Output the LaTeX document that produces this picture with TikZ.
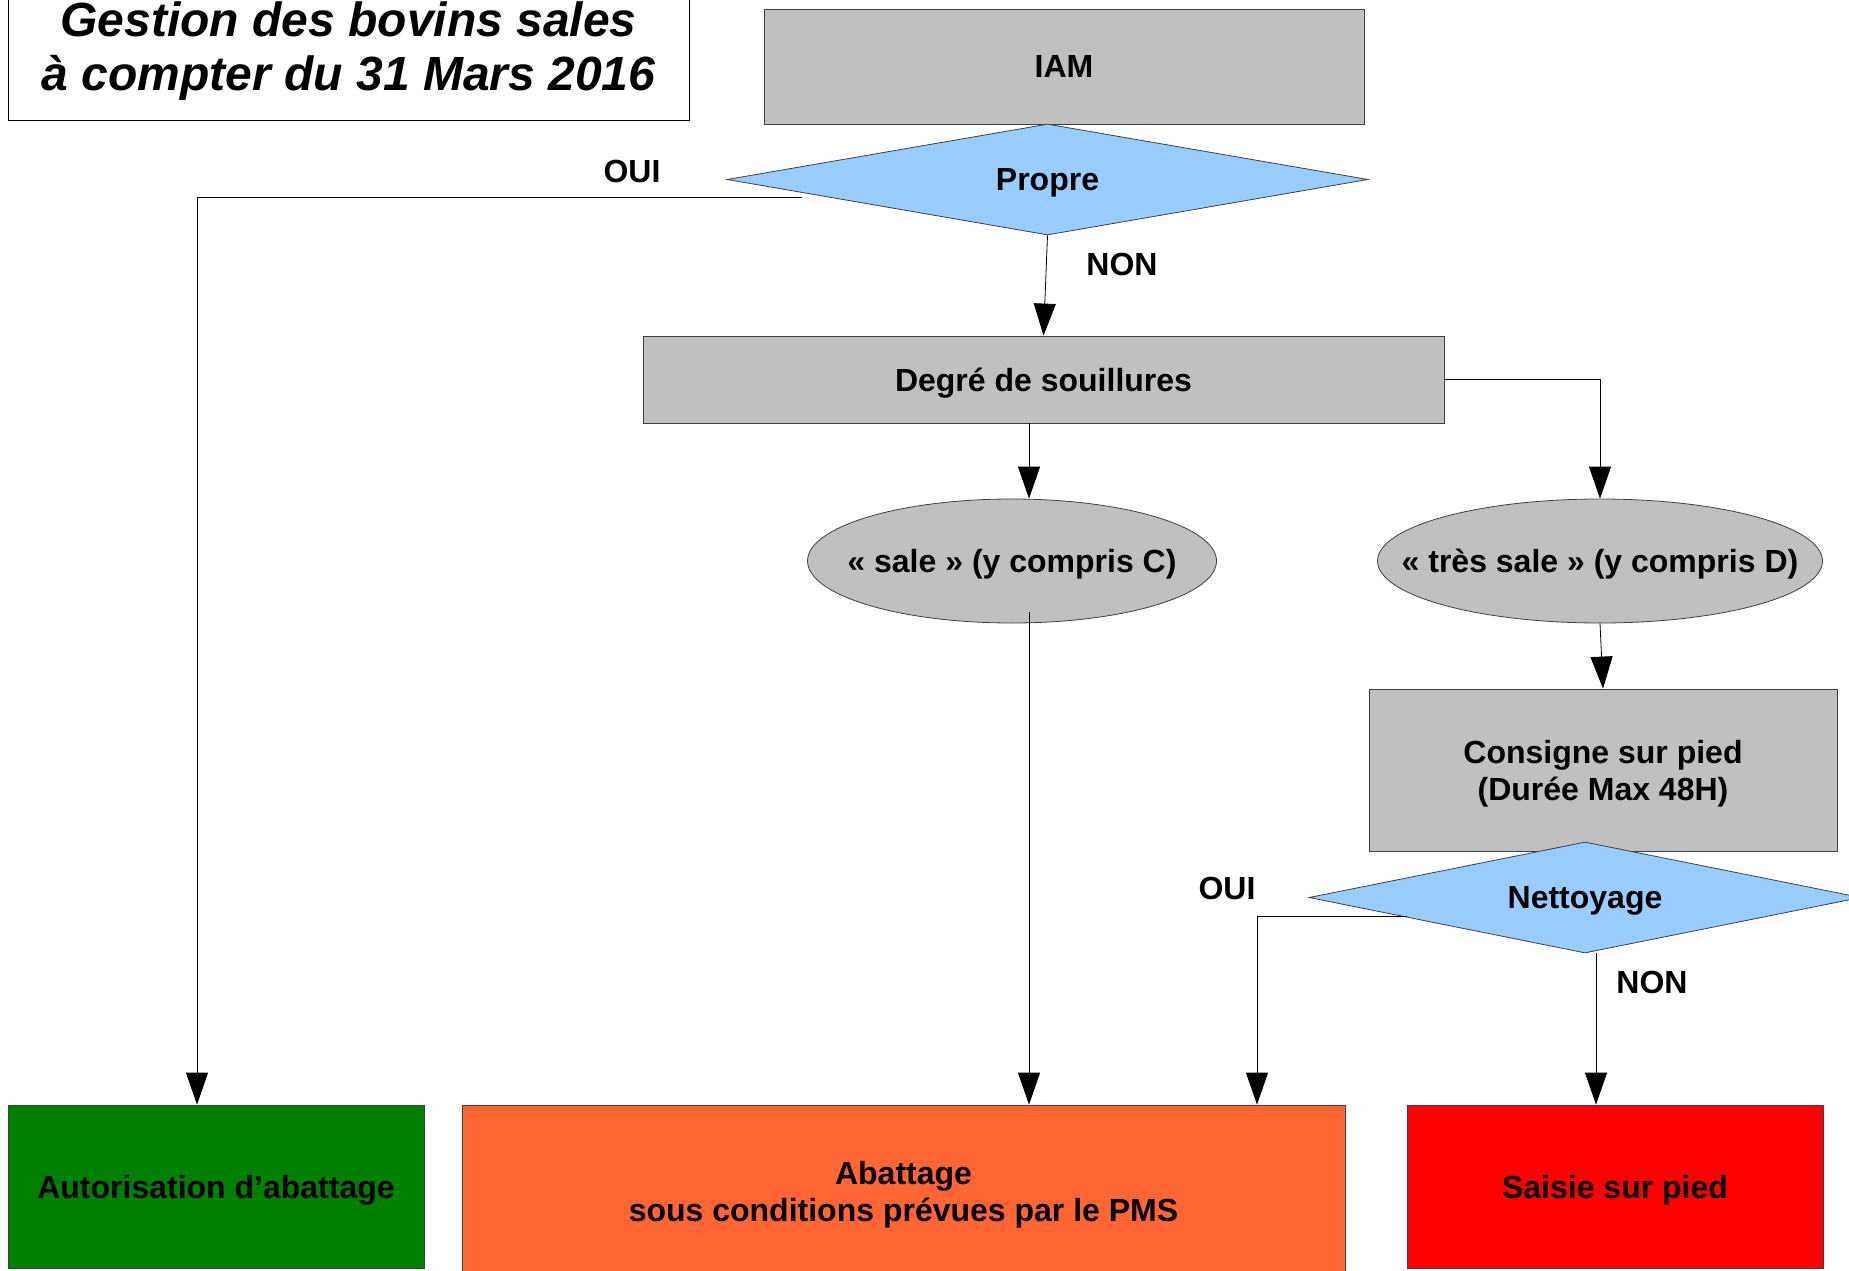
\documentclass[tikz,border=0pt]{standalone}
\usepackage{fontspec}
\setmainfont{Liberation Sans}
\usetikzlibrary{shapes.geometric,arrows.meta}

\definecolor{grisbox}{HTML}{C0C0C0}
\definecolor{bleudec}{HTML}{99CCFF}
\definecolor{vertok}{HTML}{008000}
\definecolor{orangepms}{HTML}{FF6633}
\definecolor{rougesaisie}{HTML}{FF0000}

\tikzset{
	boite/.style={rectangle,draw=black!75,line width=0.8pt,fill=grisbox,inner sep=0pt,align=center,text depth=0pt},
	decision/.style={diamond,draw=black!75,line width=0.8pt,fill=bleudec,inner sep=0pt,text depth=0pt},
	bulle/.style={ellipse,draw=black!75,line width=0.8pt,fill=grisbox,inner sep=0pt,text depth=0pt},
	issue/.style={rectangle,draw=black!75,line width=0.8pt,inner sep=0pt,align=center,text depth=0pt}
}

\begin{document}
\begin{tikzpicture}[x=1pt,y=-1pt,font=\fontsize{32}{37}\selectfont\bfseries]
						\clip (0,0) rectangle (1849,1271);
						\node[draw,line width=1pt,minimum width=681pt,minimum height=140pt,align=center,
							font=\fontsize{48}{54}\selectfont\bfseries\itshape] (titre) at (348.5,51)
							{Gestion des bovins sales\\à compter du 31 Mars 2016};
						
						\begin{scope}[every node/.style={boite}]
							\node[minimum width=600pt,minimum height=115pt] (iam) at (1064,66.5) {IAM};
							\node[minimum width=801pt,minimum height=87pt] (degre) at (1043.5,379.5) {Degré de souillures};
							\node[minimum width=468pt,minimum height=162pt] (consigne) at (1603,770) {Consigne sur pied\\(Durée Max 48H)};
						\end{scope}
						
						\begin{scope}[every node/.style={decision}]
							\node[aspect=5.77,minimum width=641pt,minimum height=111pt] (propre) at (1047.5,179.5) {Propre};
							\node[aspect=4.97,minimum width=552pt,minimum height=111pt] (nettoyage) at (1585,897.5) {Nettoyage};
						\end{scope}
						
						\begin{scope}[every node/.style={bulle}]
							\node[minimum width=409pt,minimum height=124pt] (sale) at (1012,561) {\makebox[0pt]{« sale » (y compris C)}};
							\node[minimum width=445pt,minimum height=124pt] (tressale) at (1600,561) {\makebox[0pt]{« très sale » (y compris D)}};
						\end{scope}
						
						\begin{scope}[every node/.style={issue}]
							\node[fill=vertok,minimum width=416pt,minimum height=163pt] (autor) at (216,1186.5) {Autorisation d’abattage};
							\node[fill=orangepms,minimum width=883pt,minimum height=172pt] (abattage) at (903.5,1191) {Abattage\\sous conditions prévues par le PMS};
							\node[fill=rougesaisie,minimum width=416pt,minimum height=163pt] (saisie) at (1615,1186.5) {Saisie sur pied};
						\end{scope}
						
						\node (oui1) at (632,171) {OUI};
						\node (non1) at (1122,264) {NON};
						\node (oui2) at (1227,888) {OUI};
						\node (non2) at (1652,982) {NON};
						
						\coordinate (depart) at (802,197);
						\begin{scope}[line width=0.8pt,>={Triangle[length=32pt,width=22pt]}]
							\draw [->] (propre.south) -- (degre.north);
							\draw [->] (depart) -| ([xshift=-19pt]autor.north);
							\draw [->] ([xshift=-14.5pt]degre.south) -- ([xshift=-14.5pt]degre.south |- sale.north);
							\draw [->] (degre.east) -| (tressale.north);
							\draw [->] ([xshift=17pt,yshift=11pt]sale.south) -- ([xshift=17pt]sale.south |- abattage.north);
							\draw [->] (tressale.south) -- (consigne.north);
							\draw [->] ([xshift=-178pt,yshift=-19pt]nettoyage.center) -| ([xshift=353.5pt]abattage.north);
							\draw [->] ([xshift=11pt]nettoyage.south) -- ([xshift=11pt]nettoyage.south |- saisie.north);
						\end{scope}
					\end{tikzpicture}
\end{document}
